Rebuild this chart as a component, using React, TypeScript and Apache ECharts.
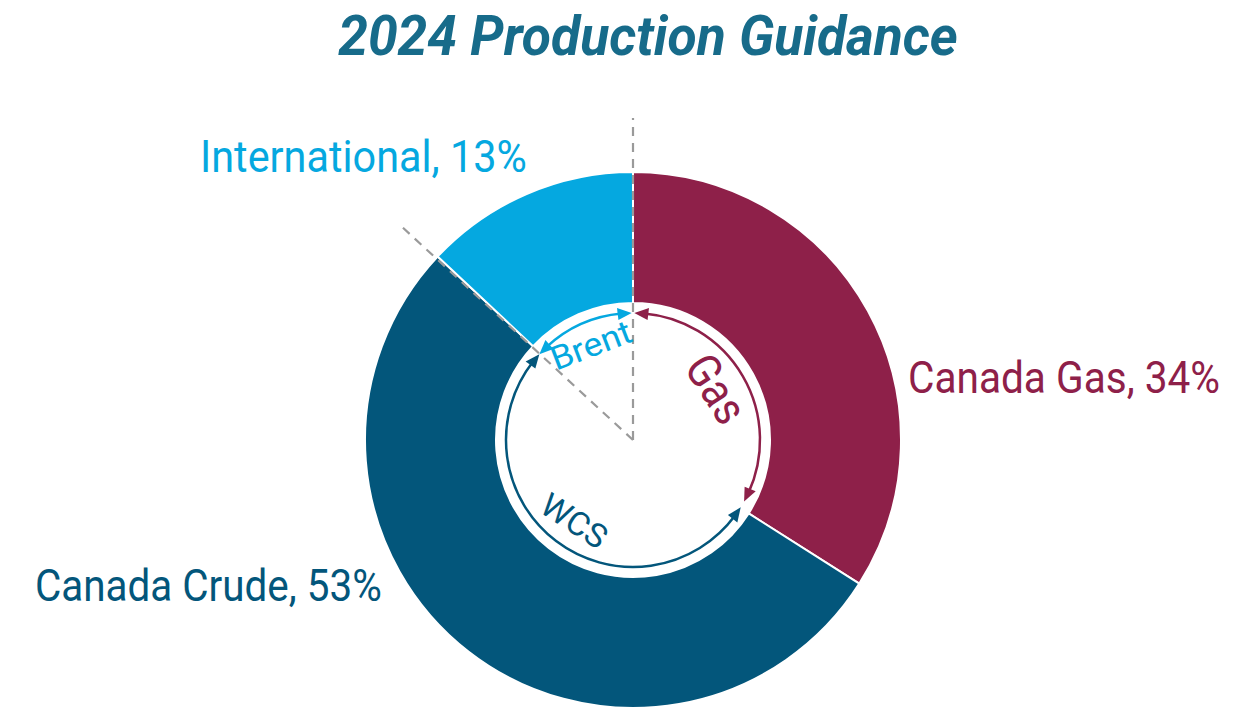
import React, { useEffect, useRef } from "react";
import * as echarts from "echarts";

const titleText = "2024 Production Guidance";
const categories = ["Canada Gas", "Canada Crude", "International"];
const shares = [34, 53, 13];
const sliceColors = ["#8E2049", "#03567B", "#05A8E0"];

// label anchor (left, vertical middle of caps) and target width
const labelPos: [number, number][] = [
  [908, 377],
  [35, 585],
  [200, 157],
];
const labelWidths = [312, 347, 327];

// arcs inside the hole: [startDeg, endDeg] math angles (CCW)
const arcNames = ["Brent", "Gas", "WCS"];
const arcRanges: [number, number][] = [
  [90.6, 137.5],
  [-29, 89.4],
  [137.5, 328],
];
const arcColors = ["#05A8E0", "#8E2049", "#03567B"];

const CX = 633;
const CY = 440;
const R_OUT = 268;
const R_IN = 137;
const R_ARC = 127;

const FONT = "Roboto, 'Noto Sans', sans-serif";

function measure(text: string, font: string): number {
  const c = document.createElement("canvas");
  const ctx = c.getContext("2d")!;
  ctx.font = font;
  return ctx.measureText(text).width;
}

function pt(deg: number, r: number): [number, number] {
  const t = (deg * Math.PI) / 180;
  return [CX + r * Math.cos(t), CY - r * Math.sin(t)];
}

function arrowHead(tipDeg: number, dirSign: number, color: string) {
  const L = 14;
  const W = 6;
  const tip = pt(tipDeg, R_ARC);
  const baseDeg = tipDeg + dirSign * ((L / R_ARC) * 180) / Math.PI;
  const bc = pt(baseDeg, R_ARC);
  const t = (baseDeg * Math.PI) / 180;
  const rx = Math.cos(t);
  const ry = -Math.sin(t);
  return {
    type: "polygon",
    z: 20,
    shape: {
      points: [tip, [bc[0] + W * rx, bc[1] + W * ry], [bc[0] - W * rx, bc[1] - W * ry]],
    },
    style: { fill: color },
  };
}

function arcGraphics(i: number) {
  const [a1, a2] = arcRanges[i];
  const color = arcColors[i];
  const shrink = ((10 / R_ARC) * 180) / Math.PI;
  const s1 = a1 + shrink;
  const s2 = a2 - shrink;
  return [
    {
      type: "arc",
      z: 20,
      shape: {
        cx: CX,
        cy: CY,
        r: R_ARC,
        startAngle: (-s2 * Math.PI) / 180,
        endAngle: (-s1 * Math.PI) / 180,
        clockwise: true,
      },
      style: { stroke: color, lineWidth: 2.5, fill: "none" },
    },
    arrowHead(a1, 1, color),
    arrowHead(a2, -1, color),
  ];
}

const arcTexts = [
  { x: 591, y: 345, rot: 21, size: 33, w: 84 },
  { x: 716, y: 389, rot: -57, size: 47, w: 72 },
  { x: 574, y: 521, rot: -33, size: 33, w: 72 },
];

export default function App() {
  const ref = useRef<HTMLDivElement>(null);
  useEffect(() => {
    if (!ref.current) return;
    const chart = echarts.init(ref.current, undefined, { renderer: "svg" });
    const graphics: any[] = [];

    // title
    const titleFont = `italic bold 56px ${FONT}`;
    graphics.push({
      type: "text",
      z: 30,
      x: 648,
      y: 36,
      scaleX: 620 / measure(titleText, titleFont),
      style: {
        text: titleText,
        fill: "#176B8A",
        font: titleFont,
        align: "center",
        verticalAlign: "middle",
      },
    });

    // slice labels
    const labelFont = `45px ${FONT}`;
    categories.forEach((c, i) => {
      const txt = `${c}, ${shares[i]}%`;
      graphics.push({
        type: "text",
        z: 30,
        x: labelPos[i][0],
        y: labelPos[i][1],
        scaleX: labelWidths[i] / measure(txt, labelFont),
        style: {
          text: txt,
          fill: sliceColors[i],
          font: labelFont,
          align: "left",
          verticalAlign: "middle",
        },
      });
    });

    for (let i = 0; i < arcNames.length; i++) graphics.push(...arcGraphics(i));
    arcNames.forEach((name, i) => {
      const t = arcTexts[i];
      const f = `${t.size}px ${FONT}`;
      graphics.push({
        type: "text",
        z: 21,
        x: t.x,
        y: t.y,
        rotation: (t.rot * Math.PI) / 180,
        scaleX: t.w / measure(name, f),
        style: {
          text: name,
          fill: arcColors[i],
          font: f,
          align: "center",
          verticalAlign: "middle",
        },
      });
    });

    // dashed guide lines
    const top = [CX, 118];
    const diag = pt(137.3, 313);
    [top, diag].forEach((p) => {
      graphics.push({
        type: "line",
        z: 15,
        shape: { x1: CX, y1: CY, x2: p[0], y2: p[1] },
        style: { stroke: "#9A9A9A", lineWidth: 2.2, lineDash: [9, 7] },
      });
    });

    chart.setOption({
      animation: false,
      series: [
        {
          type: "pie",
          center: [CX, CY],
          radius: [R_IN, R_OUT],
          startAngle: 90,
          clockwise: true,
          silent: true,
          itemStyle: { borderColor: "#ffffff", borderWidth: 2 },
          label: { show: false },
          labelLine: { show: false },
          data: categories.map((c, i) => ({
            name: c,
            value: shares[i],
            itemStyle: { color: sliceColors[i] },
          })),
        },
      ],
      graphic: graphics,
    });
    return () => chart.dispose();
  }, []);
  return (
    <div
      ref={ref}
      style={{ position: "fixed", left: 0, top: 0, width: 1244, height: 709, background: "#fff" }}
    />
  );
}
